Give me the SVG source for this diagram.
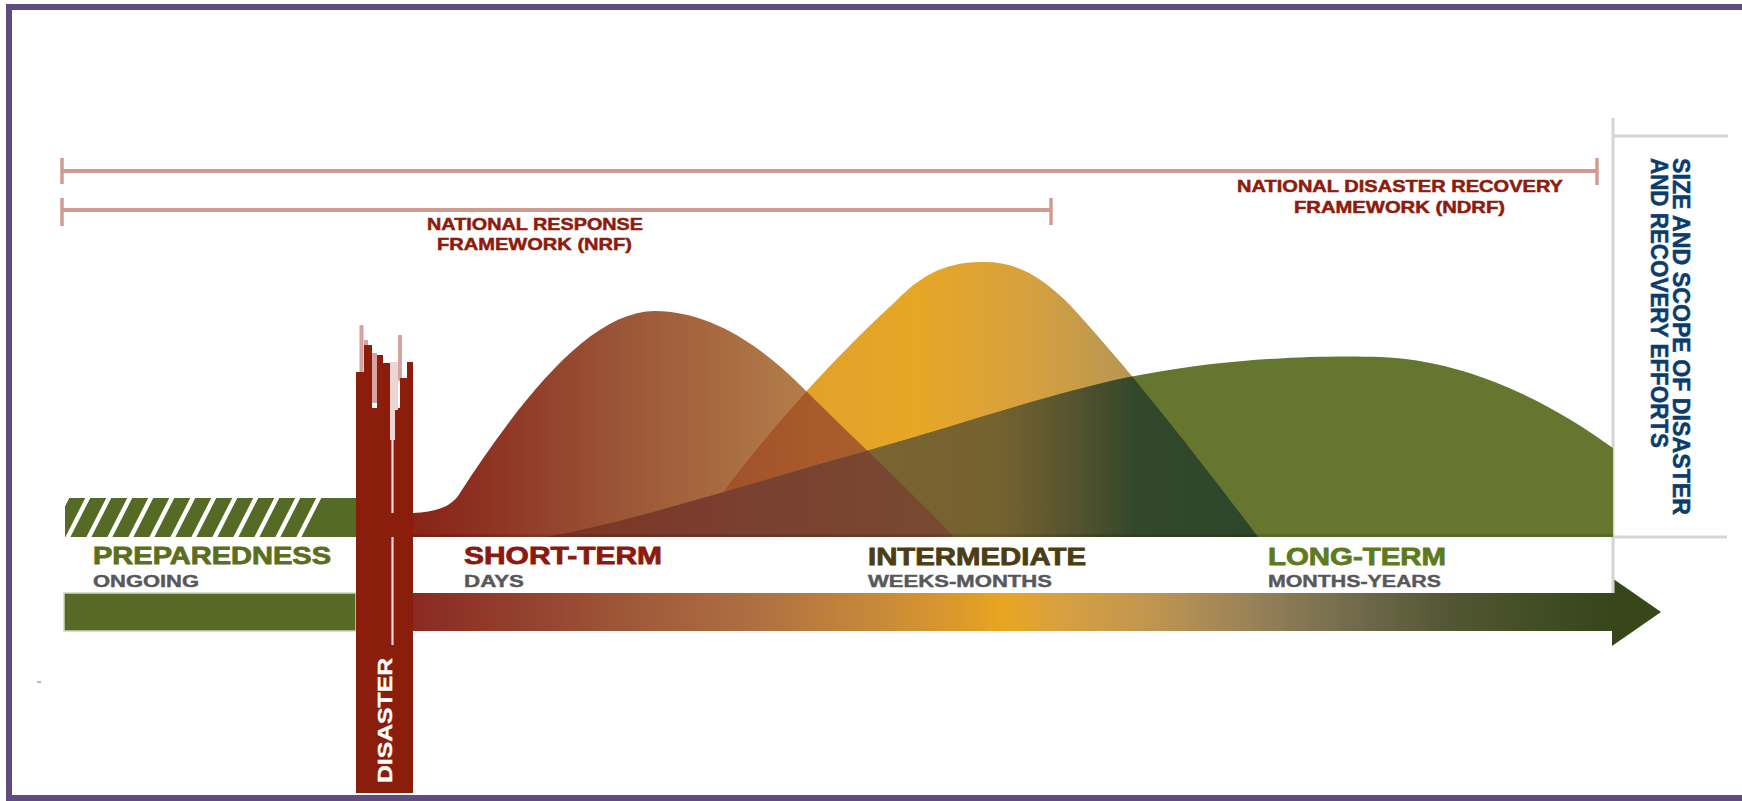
<svg xmlns="http://www.w3.org/2000/svg" width="1742" height="801" viewBox="0 0 1742 801">
<style>
text{font-family:"Liberation Sans",Arial,sans-serif;font-weight:bold}
.fw{fill:#8e1b0c;stroke:#8e1b0c;stroke-width:0.5;font-size:16.5px}
.big{font-size:24px;stroke-width:0.8}
.sub{font-size:16px;fill:#58585a;stroke:#58585a;stroke-width:0.4}
.vt{fill:#0c3c6c;stroke:#0c3c6c;stroke-width:0.5;font-size:23px}
.brk{stroke:#d09c92;stroke-width:4;fill:none}
.tick{stroke:#d09c92;stroke-width:3.5}
.gray{stroke:#d4d4d4;stroke-width:3;fill:none}
.dr{fill:#8a1d0b}
.pk{fill:#d6a3a0}
</style>
<defs>
<linearGradient id="gRed" gradientUnits="userSpaceOnUse" x1="413" y1="0" x2="800" y2="0">
<stop offset="0" stop-color="#8a2418"/><stop offset="0.15" stop-color="#8c2f20"/><stop offset="0.55" stop-color="#9c5638"/><stop offset="1" stop-color="#b27c48"/>
</linearGradient>
<linearGradient id="gGold" gradientUnits="userSpaceOnUse" x1="693" y1="0" x2="1258" y2="0">
<stop offset="0" stop-color="#d08a35"/><stop offset="0.2" stop-color="#e2a22a"/><stop offset="0.4" stop-color="#e6a626"/><stop offset="0.6" stop-color="#d6a040"/><stop offset="0.8" stop-color="#b09556"/><stop offset="1" stop-color="#8c8a58"/>
</linearGradient>
<linearGradient id="gRedGold" gradientUnits="userSpaceOnUse" x1="693" y1="0" x2="954" y2="0">
<stop offset="0" stop-color="#9e4e2e"/><stop offset="0.45" stop-color="#a85a2a"/><stop offset="1" stop-color="#ac6230"/>
</linearGradient>
<linearGradient id="gGreenGold" gradientUnits="userSpaceOnUse" x1="870" y1="0" x2="1258" y2="0">
<stop offset="0" stop-color="#7a6432"/><stop offset="0.33" stop-color="#74622f"/><stop offset="0.52" stop-color="#565430"/><stop offset="0.68" stop-color="#33482a"/><stop offset="1" stop-color="#2d4629"/>
</linearGradient>
<linearGradient id="gGreenRed" gradientUnits="userSpaceOnUse" x1="545" y1="0" x2="954" y2="0">
<stop offset="0" stop-color="#7c3324"/><stop offset="0.5" stop-color="#7a4030"/><stop offset="1" stop-color="#784a30"/>
</linearGradient>
<linearGradient id="gShaft" gradientUnits="userSpaceOnUse" x1="413" y1="0" x2="1613" y2="0">
<stop offset="0" stop-color="#8a2a22"/><stop offset="0.089" stop-color="#93402e"/><stop offset="0.189" stop-color="#a05a3a"/><stop offset="0.289" stop-color="#b07042"/><stop offset="0.389" stop-color="#c88a38"/><stop offset="0.456" stop-color="#dc9a2a"/><stop offset="0.492" stop-color="#e9a621"/><stop offset="0.539" stop-color="#d8a040"/><stop offset="0.614" stop-color="#c09650"/><stop offset="0.698" stop-color="#988258"/><stop offset="0.781" stop-color="#726c4c"/><stop offset="0.864" stop-color="#525632"/><stop offset="0.956" stop-color="#3e4b22"/><stop offset="1" stop-color="#38461c"/>
</linearGradient>
<pattern id="hatch" patternUnits="userSpaceOnUse" x="0" y="0" width="21" height="10" patternTransform="skewX(-27)">
<rect x="3" y="0" width="5" height="10" fill="#ffffff"/>
</pattern>
<path id="pRed" d="M413,513 C432,512 448,509 458,496 C520,400 590,311 655,311 C705,311 755,340 800,385 C850,435 915,495 954,537 L413,537 Z"/>
<path id="pGold" d="M693,537 C725,480 820,370 895,302 C930,265 960,262 985,262 C1015,262 1040,275 1070,305 C1130,370 1200,460 1258,537 Z"/>
<path id="pGreen" d="M545,537 C640,520 760,480 870,450 C960,425 1060,390 1140,375 C1230,358 1320,355 1380,357 C1460,360 1540,395 1613,448 L1613,537 Z"/>
<clipPath id="cRed"><use href="#pRed"/></clipPath>
<clipPath id="cGold"><use href="#pGold"/></clipPath>
</defs>

<rect x="0" y="0" width="1742" height="801" fill="#ffffff"/>

<g id="frame">
<path d="M1745,7 H9 V798 H1745" fill="none" stroke="#5f4b80" stroke-width="6"/>
<rect x="37" y="681" width="4" height="2" fill="#bbbbbb"/>
</g>

<g id="connectors">
<g id="ndrf-bracket">
<line class="brk" x1="62" y1="171" x2="1597" y2="171"/>
<line class="tick" x1="62" y1="158" x2="62" y2="184"/>
<line class="tick" x1="1597" y1="158" x2="1597" y2="185"/>
</g>
<g id="nrf-bracket">
<line class="brk" x1="62" y1="210" x2="1051" y2="210"/>
<line class="tick" x1="62" y1="198" x2="62" y2="226"/>
<line class="tick" x1="1051" y1="198" x2="1051" y2="225"/>
</g>
<g id="timeline-arrow">
<rect x="413" y="593" width="1200" height="38" fill="url(#gShaft)"/>
<polygon points="1612,578 1661,612 1612,646" fill="#37461b"/>
</g>
</g>

<g id="nrf-label">
<text class="fw" x="427" y="230" textLength="216" lengthAdjust="spacingAndGlyphs">NATIONAL RESPONSE</text>
<text class="fw" x="437" y="250" textLength="195" lengthAdjust="spacingAndGlyphs">FRAMEWORK (NRF)</text>
</g>
<g id="ndrf-label">
<text class="fw" x="1237" y="192" textLength="326" lengthAdjust="spacingAndGlyphs">NATIONAL DISASTER RECOVERY</text>
<text class="fw" x="1294" y="213" textLength="211" lengthAdjust="spacingAndGlyphs">FRAMEWORK (NDRF)</text>
</g>

<g id="size-axis">
<path class="gray" d="M1613,118 V593"/>
<path class="gray" d="M1613,136 H1728"/>
<path class="gray" d="M1613,537 H1727"/>
<text class="vt" transform="translate(1673,158) rotate(90)" x="0" y="0" textLength="357" lengthAdjust="spacingAndGlyphs">SIZE AND SCOPE OF DISASTER</text>
<text class="vt" transform="translate(1651,158) rotate(90)" x="0" y="0" textLength="290" lengthAdjust="spacingAndGlyphs">AND RECOVERY EFFORTS</text>
</g>

<g id="humps">
<use href="#pRed" fill="url(#gRed)"/>
<use href="#pGold" fill="url(#gGold)"/>
<use href="#pGold" fill="url(#gRedGold)" clip-path="url(#cRed)"/>
<use href="#pGreen" fill="#67762f"/>
<use href="#pGreen" fill="url(#gGreenGold)" clip-path="url(#cGold)"/>
<use href="#pGreen" fill="url(#gGreenRed)" clip-path="url(#cRed)"/>
<rect x="413" y="534" width="1200" height="3" fill="#000000" opacity="0.12"/>
</g>

<g id="preparedness">
<rect x="65" y="498" width="291" height="39" fill="#556a24"/>
<polygon points="65,498 323,498 303,537 65,537" fill="url(#hatch)"/>
<rect x="64" y="593" width="292" height="38" fill="#566a25" stroke="#cfd5bd" stroke-width="1.5"/>
<text class="big" x="93" y="564" fill="#5a6e1e" stroke="#5a6e1e" textLength="238" lengthAdjust="spacingAndGlyphs">PREPAREDNESS</text>
<text class="sub" x="93" y="587" textLength="106" lengthAdjust="spacingAndGlyphs">ONGOING</text>
</g>

<g id="disaster">
<rect class="dr" x="356" y="408" width="57" height="385"/>
<rect class="pk" x="359.5" y="325" width="4" height="48"/>
<rect class="dr" x="356" y="372" width="8" height="40"/>
<rect class="pk" x="364" y="340" width="4" height="8"/>
<rect class="dr" x="364" y="345" width="8" height="66"/>
<rect class="pk" x="372" y="353" width="5" height="50"/>
<rect class="dr" x="377" y="355" width="6" height="55"/>
<rect class="dr" x="383" y="363" width="7" height="47"/>
<rect fill="#ecd5d3" x="390" y="362" width="8" height="78"/>
<rect class="pk" x="398" y="335" width="4" height="46"/>
<rect class="dr" x="400" y="378" width="7" height="34"/>
<rect class="dr" x="407" y="362" width="6" height="50"/>
<rect class="dr" x="395" y="410" width="3" height="30"/>
<path d="M392.5,440 V513 M392.5,537 V645" stroke="#f2d8d8" stroke-width="2.2" fill="none"/>
<text transform="translate(392,783) rotate(-90)" x="0" y="0" fill="#ffffff" stroke="#ffffff" stroke-width="0.4" font-size="20" textLength="125" lengthAdjust="spacingAndGlyphs">DISASTER</text>
</g>

<g id="short-term">
<text class="big" x="464" y="564" fill="#8b1a0e" stroke="#8b1a0e" textLength="198" lengthAdjust="spacingAndGlyphs">SHORT-TERM</text>
<text class="sub" x="464" y="587" textLength="60" lengthAdjust="spacingAndGlyphs">DAYS</text>
</g>
<g id="intermediate">
<text class="big" x="868" y="565" fill="#4d3d12" stroke="#4d3d12" textLength="218" lengthAdjust="spacingAndGlyphs">INTERMEDIATE</text>
<text class="sub" x="868" y="587" textLength="184" lengthAdjust="spacingAndGlyphs">WEEKS-MONTHS</text>
</g>
<g id="long-term">
<text class="big" x="1268" y="565" fill="#5e7a1e" stroke="#5e7a1e" textLength="178" lengthAdjust="spacingAndGlyphs">LONG-TERM</text>
<text class="sub" x="1268" y="587" textLength="173" lengthAdjust="spacingAndGlyphs">MONTHS-YEARS</text>
</g>
</svg>
